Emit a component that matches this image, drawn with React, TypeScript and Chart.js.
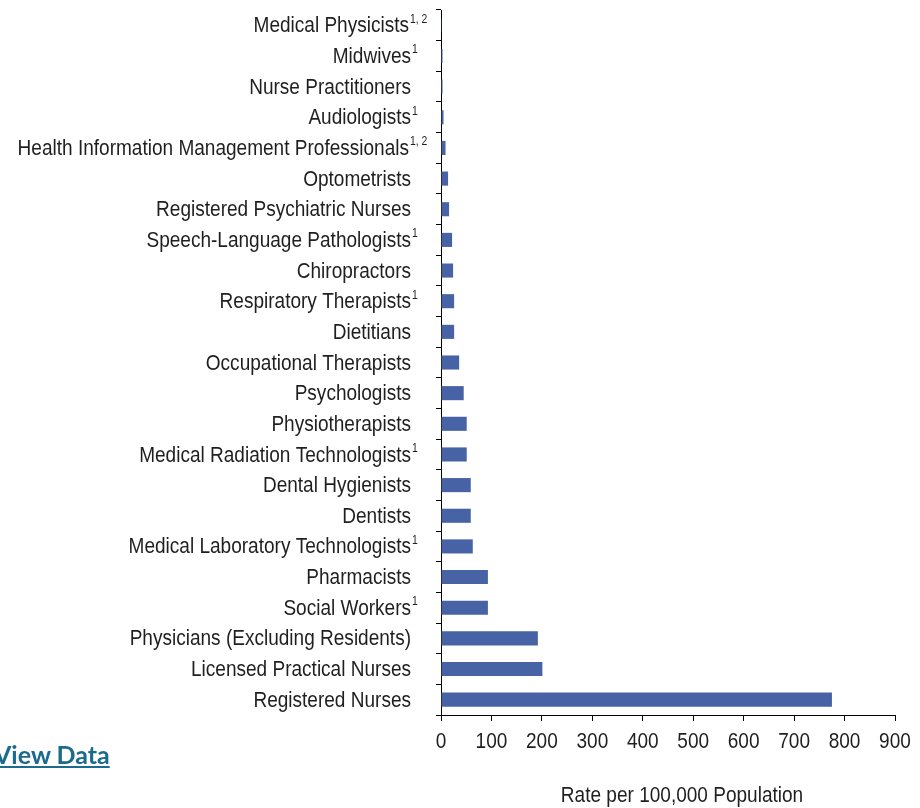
import React, { useEffect, useRef } from "react";
import { Chart, registerables } from "chart.js";

Chart.register(...registerables);

const categories: string[] = [
  "Medical Physicists",
  "Midwives",
  "Nurse Practitioners",
  "Audiologists",
  "Health Information Management Professionals",
  "Optometrists",
  "Registered Psychiatric Nurses",
  "Speech-Language Pathologists",
  "Chiropractors",
  "Respiratory Therapists",
  "Dietitians",
  "Occupational Therapists",
  "Psychologists",
  "Physiotherapists",
  "Medical Radiation Technologists",
  "Dental Hygienists",
  "Dentists",
  "Medical Laboratory Technologists",
  "Pharmacists",
  "Social Workers",
  "Physicians (Excluding Residents)",
  "Licensed Practical Nurses",
  "Registered Nurses",
];

const footnotes: string[] = [
  "1, 2", "1", "", "1", "1, 2", "", "", "1", "", "1", "", "", "", "", "1",
  "", "", "1", "", "1", "", "", "",
];

const rates: number[] = [
  0.5, 3, 3, 5, 9, 14, 16, 22, 24, 26, 26, 36, 45, 51, 51, 59, 59, 63, 93, 93,
  192, 201, 775,
];

const xTicks: number[] = [0, 100, 200, 300, 400, 500, 600, 700, 800, 900];
const xTitle = "Rate per 100,000 Population";
const linkText = "View Data";

const FONT = "'Liberation Sans', Arial, sans-serif";
const TEXT = "#1f1f1f";
const SX = 0.865;

function drawNarrow(ctx: CanvasRenderingContext2D, text: string, x: number, y: number, align: CanvasTextAlign, size: number) {
  ctx.save();
  ctx.font = `${size}px ${FONT}`;
  ctx.translate(x, y);
  ctx.scale(SX, 1);
  ctx.textAlign = align;
  ctx.fillText(text, 0, 0);
  ctx.restore();
}

const textPlugin = {
  id: "narrowText",
  afterDraw(chart: any) {
    const ctx: CanvasRenderingContext2D = chart.ctx;
    const y = chart.scales.y;
    const x = chart.scales.x;
    const { left, bottom } = chart.chartArea;
    ctx.save();
    ctx.fillStyle = TEXT;
    ctx.textBaseline = "middle";
    categories.forEach((c, i) => {
      const py = y.getPixelForValue(i) + 1;
      const note = footnotes[i];
      const end = left - (note === "1, 2" ? 32 : 30);
      drawNarrow(ctx, c, end, py, "right", 22);
      if (note) {
        drawNarrow(ctx, note, end + 1, py - 7, "left", 12);
      }
    });
    xTicks.forEach((v) => {
      drawNarrow(ctx, String(v), x.getPixelForValue(v), bottom + 27, "center", 22);
    });
    drawNarrow(ctx, xTitle, left + 241, bottom + 81, "center", 22);
    ctx.restore();
  },
};

export default function App() {
  const ref = useRef<HTMLCanvasElement | null>(null);
  useEffect(() => {
    if (!ref.current) return;
    const chart = new Chart(ref.current, {
      type: "bar",
      data: {
        labels: categories,
        datasets: [
          {
            data: rates,
            backgroundColor: "#4763A6",
            borderWidth: 0,
            barPercentage: 0.46,
            categoryPercentage: 1,
          },
        ],
      },
      options: {
        indexAxis: "y",
        animation: false,
        responsive: false,
        layout: { padding: { top: 10, right: 25, left: 0, bottom: 0 } },
        plugins: { legend: { display: false }, tooltip: { enabled: false } },
        scales: {
          y: {
            type: "category",
            offset: true,
            grid: {
              offset: true,
              drawOnChartArea: false,
              drawTicks: true,
              tickLength: 5,
              color: "#000",
            },
            border: { display: true, color: "#000", width: 1 },
            ticks: { display: false },
            afterFit(scale: any) {
              scale.width = 441;
            },
          },
          x: {
            type: "linear",
            min: 0,
            max: 900,
            grid: {
              drawOnChartArea: false,
              drawTicks: true,
              tickLength: 6,
              color: "#000",
            },
            border: { display: true, color: "#000", width: 1 },
            afterBuildTicks(scale: any) {
              scale.ticks = xTicks.map((v) => ({ value: v }));
            },
            ticks: { display: false },
            afterFit(scale: any) {
              scale.height = 93;
            },
          },
        },
      },
      plugins: [textPlugin],
    });
    return () => chart.destroy();
  }, []);

  return (
    <div style={{ position: "fixed", left: 0, top: 0, width: 920, height: 808, background: "#fff", overflow: "hidden" }}>
      <canvas ref={ref} width={920} height={808} style={{ position: "absolute", left: 0, top: 0 }} />
      <a
        href="#"
        style={{
          position: "absolute",
          left: -6,
          top: 739,
          fontFamily: "Lato, 'Open Sans', sans-serif",
          fontWeight: 700,
          fontSize: 25,
          color: "#1a6b8d",
          textDecoration: "underline",
        }}
      >
        {linkText}
      </a>
    </div>
  );
}
